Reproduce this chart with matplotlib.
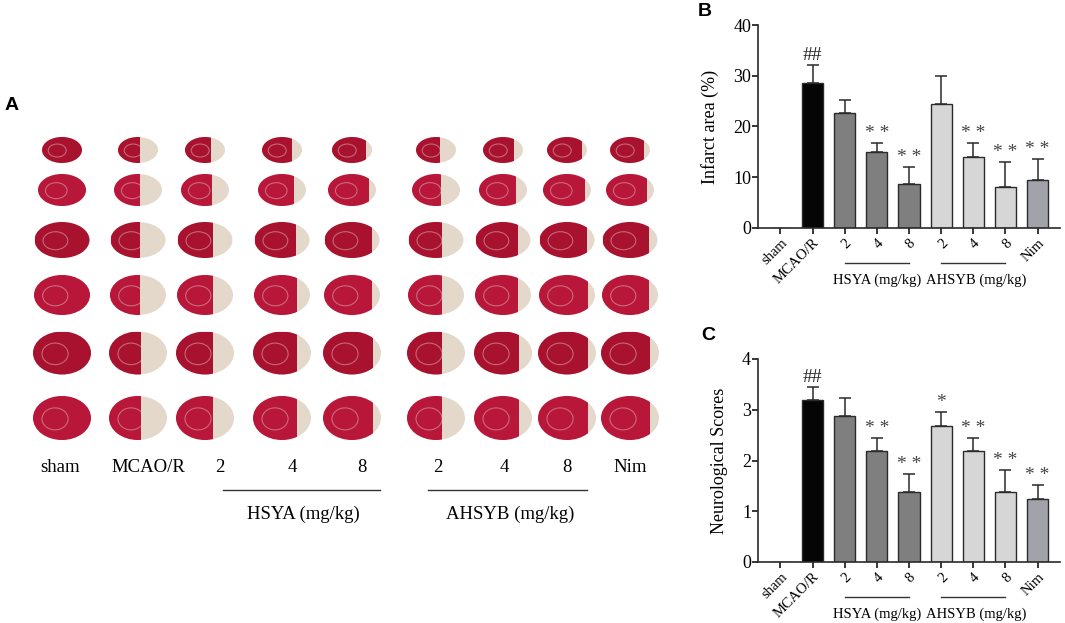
import matplotlib as mpl
mpl.use('Agg')
import matplotlib.pyplot as plt
from matplotlib.patches import Ellipse, Rectangle
import numpy as np

# data
groups = ['sham', 'MCAO/R', '2', '4', '8', '2', '4', '8', 'Nim']
infarct_mean = [0, 28.5, 22.6, 15.0, 8.6, 24.5, 14.0, 8.1, 9.5]
infarct_err = [0, 3.7, 2.7, 1.7, 3.5, 5.5, 2.7, 5.0, 4.0]
neuro_mean = [0, 3.19, 2.87, 2.18, 1.37, 2.68, 2.18, 1.37, 1.25]
neuro_err = [0, 0.26, 0.36, 0.27, 0.36, 0.27, 0.27, 0.45, 0.27]
infarct_marks = ['', '##', '', '* *', '* *', '', '* *', '* *', '* *']
neuro_marks = ['', '##', '', '* *', '* *', '*', '* *', '* *', '* *']
group_names = ['HSYA (mg/kg)', 'AHSYB (mg/kg)']

bar_colors = ['white', '#050505', '#7f7f7f', '#7f7f7f', '#7f7f7f',
              '#d6d6d6', '#d6d6d6', '#d6d6d6', '#a2a2aa']

SERIF = 'Liberation Serif'
plt.rcParams['font.family'] = SERIF

fig = plt.figure(figsize=(10.65, 6.23), dpi=100)

# ---- panel A: sketch of the stained slices ----
ax_a = fig.add_axes([0, 0, 690 / 1065, 1])
ax_a.set_xlim(0, 690)
ax_a.set_ylim(623, 0)
ax_a.axis('off')

col_x = [62, 138, 205, 282, 352, 436, 503, 567, 630]
label_x = [60, 148, 220, 292, 362, 438, 504, 567, 630]
row_y = [150, 190, 240, 295, 353, 418]
row_w = [40, 48, 55, 56, 58, 58]
row_h = [26, 32, 36, 40, 43, 44]
pale_frac = [v / 100 * 1.6 for v in infarct_mean]

for j, cx in enumerate(col_x):
    for i, cy in enumerate(row_y):
        w, h = row_w[i], row_h[i]
        pale = Ellipse((cx, cy), w, h, facecolor='#e4d8cb', edgecolor='none')
        ax_a.add_patch(pale)
        red = Ellipse((cx, cy), w, h, facecolor='#b8173a' if i % 2 else '#a8122f',
                      edgecolor='none')
        ax_a.add_patch(red)
        clip = Rectangle((cx - w / 2, cy - h / 2), w * (1 - pale_frac[j]), h,
                         transform=ax_a.transData)
        red.set_clip_path(clip)
        inner = Ellipse((cx - w * 0.12, cy + h * 0.02), w * 0.45, h * 0.5,
                        facecolor='none', edgecolor='#d8a0aa', lw=0.8, alpha=0.6)
        ax_a.add_patch(inner)
        inner.set_clip_path(clip)

for j, lab in enumerate(groups):
    ax_a.text(label_x[j], 468, lab, fontsize=13.5, ha='center', va='center')

ax_a.plot([223, 380], [490, 490], color='#333333', lw=1)
ax_a.plot([428, 587], [490, 490], color='#333333', lw=1)
ax_a.text(303, 514, group_names[0], fontsize=13.5, ha='center', va='center')
ax_a.text(510, 514, group_names[1], fontsize=13.5, ha='center', va='center')
ax_a.text(12, 106, 'A', fontsize=14, fontweight='bold', family='Liberation Sans',
          ha='center', va='center')


def bar_panel(rect, mean, err, marks, ymax, step, ylabel, letter, mark_off):
    ax = fig.add_axes(rect)
    x = np.arange(len(groups))
    ax.bar(x, mean, width=0.66, color=bar_colors, edgecolor='#2a2a2a', linewidth=1,
           zorder=2)
    ax.errorbar(x[1:], mean[1:], yerr=[np.zeros(len(x) - 1), err[1:]], fmt='none',
                ecolor='#2a2a2a', elinewidth=1.1, capsize=4.5, capthick=1.1, zorder=3)
    for xi, m, e, s in zip(x, mean, err, marks):
        if s:
            ax.text(xi, m + e + mark_off, s, ha='center', va='bottom', fontsize=14,
                    color='#444444' if '*' in s else '#222222')
    ax.set_xlim(-0.7, 8.7)
    ax.set_ylim(0, ymax)
    ax.set_yticks(np.arange(0, ymax + step / 2, step))
    ax.set_xticks(x)
    ax.set_xticklabels(groups, rotation=45, ha='right', rotation_mode='anchor',
                       fontsize=10.5)
    ax.tick_params(axis='y', labelsize=13, length=4, width=1.1, direction='out',
                   pad=1)
    ax.tick_params(axis='x', length=4, width=1.1, direction='out', pad=2)
    for sp in ['top', 'right']:
        ax.spines[sp].set_visible(False)
    for sp in ['left', 'bottom']:
        ax.spines[sp].set_linewidth(1.2)
        ax.spines[sp].set_color('#2a2a2a')
    ax.set_ylabel(ylabel, fontsize=13, labelpad=10)
    # group underlines and names
    for k, (a, b) in enumerate([(2, 4), (5, 7)]):
        ax.plot([a, b], [-0.17, -0.17], color='#333333', lw=1,
                transform=ax.get_xaxis_transform(), clip_on=False)
        ax.text((a + b) / 2 + (0.0 if k == 0 else 0.1), -0.255, group_names[k],
                transform=ax.get_xaxis_transform(), ha='center', va='center',
                fontsize=10.5)
    fig.text(letter[1], letter[2], letter[0], fontsize=14, fontweight='bold',
             family='Liberation Sans', ha='center', va='center')
    return ax


bar_panel([758 / 1065, 1 - 228 / 623, 302 / 1065, 203 / 623], infarct_mean,
          infarct_err, infarct_marks, 40, 10, 'Infarct area (%)',
          ('B', 705 / 1065, 1 - 12 / 623), 0.2)
bar_panel([758 / 1065, 1 - 562 / 623, 302 / 1065, 203 / 623], neuro_mean,
          neuro_err, neuro_marks, 4, 1, 'Neurological Scores',
          ('C', 708 / 1065, 1 - 335 / 623), 0.02)

fig.savefig('out.png', dpi=100)
